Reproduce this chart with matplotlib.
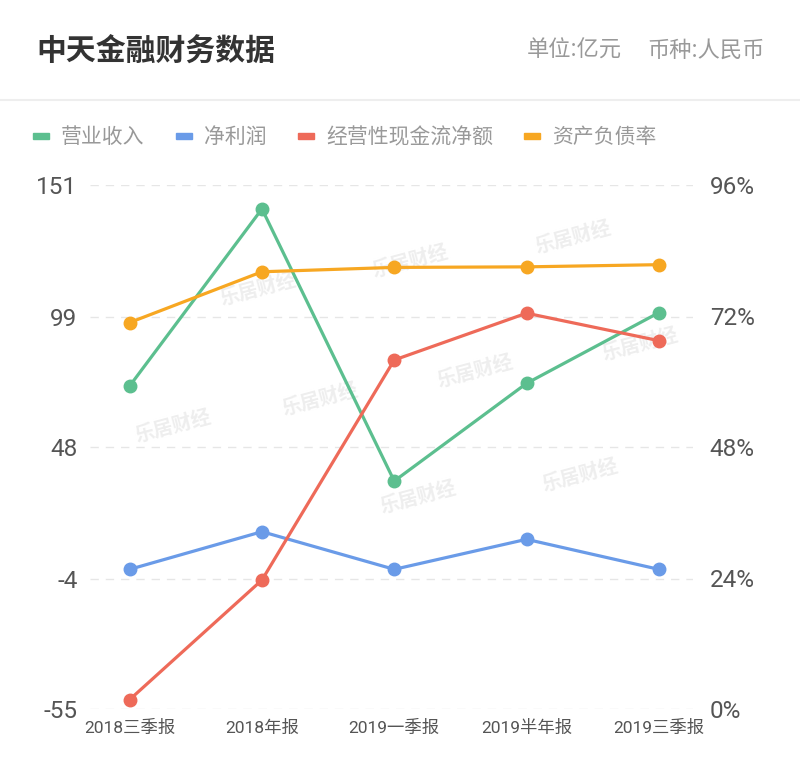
import matplotlib
matplotlib.use("Agg")
from matplotlib import pyplot as plt

plt.rcParams['font.family'] = ['Noto Sans CJK SC', 'DejaVu Sans']
plt.rcParams['axes.unicode_minus'] = False

categories = ['2018三季报', '2018年报', '2019一季报', '2019半年报', '2019三季报']
revenue = [72.0, 141.6, 34.6, 73.0, 100.8]
net_profit = [-0.1, 14.7, -0.1, 11.7, -0.1]
cash_flow = [-51.3, -4.3, 82.2, 100.6, 89.8]
debt_ratio = [70.8, 80.1, 80.9, 81.0, 81.4]

left_ticks = [-55, -4, 48, 99, 151]
right_ticks = [0, 24, 48, 72, 96]

series_names = ['营业收入', '净利润', '经营性现金流净额', '资产负债率']
colors = ['#5CBF8F', '#6A9BE8', '#EE6A59', '#F7A722']

num_font = ['Roboto', 'Noto Sans CJK SC']

fig = plt.figure(figsize=(8, 7.74), dpi=100)

# watermarks, behind the plot
for wx, wy in [(173, 427), (258, 290), (320, 400), (418, 498), (410, 262),
               (475, 372), (573, 238), (640, 345), (580, 476)]:
    fig.text(wx / 800, 1 - wy / 774, '乐居财经', color='#eeeeee', fontsize=14,
             fontweight='bold', rotation=15, ha='center', va='center', zorder=-5)

ax = fig.add_axes([0.1125, 0.084, 0.754, 0.677])
ax2 = ax.twinx()
ax.patch.set_visible(False)
ax2.patch.set_visible(False)

x = range(len(categories))
for vals, c in zip([revenue, net_profit, cash_flow], colors[:3]):
    ax.plot(x, vals, color=c, lw=2.3, marker='o', ms=9, zorder=3)
ax2.plot(x, debt_ratio, color=colors[3], lw=2.3, marker='o', ms=9, zorder=3)

ax.set_xlim(-0.3, 4.26)
ax.set_ylim(left_ticks[0], left_ticks[-1])
ax2.set_ylim(right_ticks[0], right_ticks[-1])
ax.set_yticks(left_ticks)
ax.set_yticklabels([str(t) for t in left_ticks], family=num_font)
ax2.set_yticks(right_ticks)
ax2.set_yticklabels([f'{t}%' for t in right_ticks], family=num_font)
ax.set_xticks(list(x))
ax.set_xticklabels(categories, family=num_font)

for a in (ax, ax2):
    for s in a.spines.values():
        s.set_visible(False)
    a.tick_params(length=0, colors='#555555', labelsize=17.5)
ax.tick_params(axis='x', labelsize=12.5, pad=8)
ax.tick_params(axis='y', pad=9)
ax2.tick_params(axis='y', pad=12)
ax.grid(axis='y', color='#e6e6e6', ls=(0, (6, 5)), lw=1)
ax.set_axisbelow(True)

# header
fig.text(36 / 800, 1 - 52 / 774, '中天金融财务数据', fontsize=21.5, fontweight='bold',
         color='#333333', va='center')
fig.text(765 / 800, 1 - 50 / 774, '币种:人民币', fontsize=16,
         color='#999999', va='center', ha='right')
fig.text(622 / 800, 1 - 50 / 774, '单位:亿元', fontsize=16,
         color='#999999', va='center', ha='right')
fig.add_artist(plt.Line2D([0, 1], [1 - 100 / 774] * 2, color='#eeeeee', lw=1.5))

# legend
lx = [33, 176, 298, 524]
for px, name, c in zip(lx, series_names, colors):
    fig.patches.append(plt.Rectangle((px / 800, 1 - 139 / 774), 16 / 800, 6 / 774,
                                     color=c, transform=fig.transFigure, figure=fig))
    fig.text((px + 28) / 800, 1 - 137 / 774, name, fontsize=15, color='#999999',
             va='center')

fig.savefig('out.png', dpi=100, facecolor='white')
